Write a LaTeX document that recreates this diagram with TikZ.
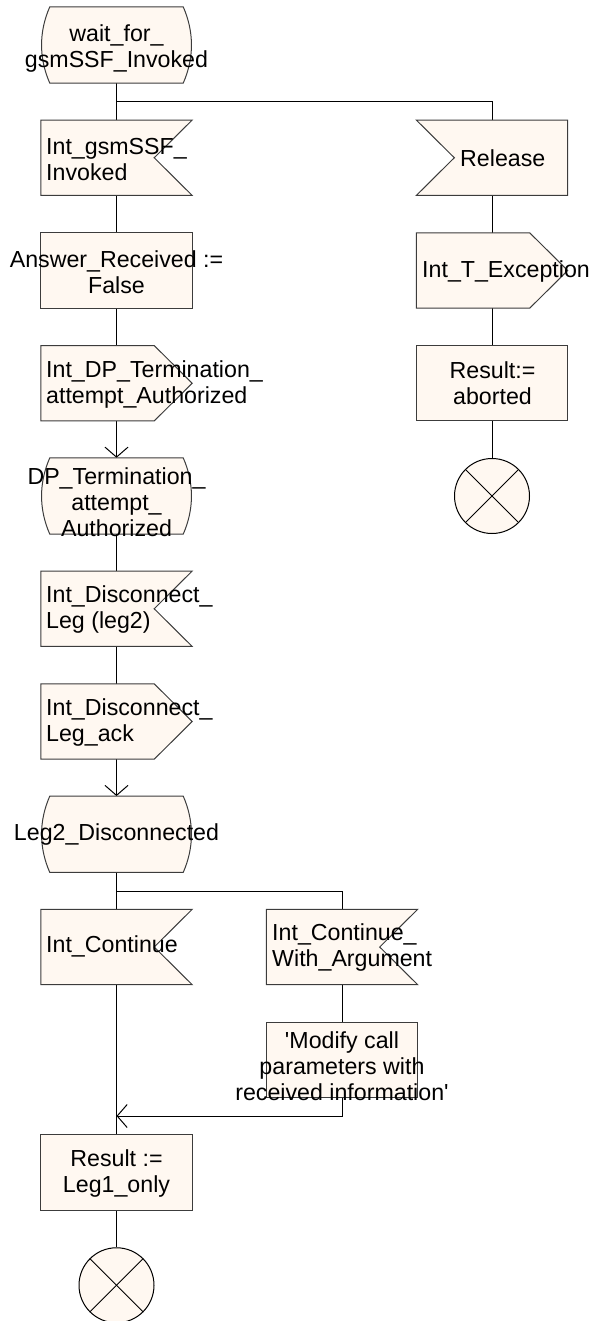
\documentclass[tikz,border=0pt]{standalone}
\usepackage{fontspec}
\setmainfont{Liberation Sans}
\usetikzlibrary{arrows.meta,calc}
\definecolor{sdlfill}{RGB}{255,248,241}
\definecolor{sdlline}{RGB}{60,60,60}
% shape outlines drawn around invisible frame nodes
\newcommand\sdlstate[1]{%
  \path[outl] ([xshift=9pt]#1.north west) -- ([xshift=-9pt]#1.north east)
    .. controls ([xshift=2pt,yshift=-25pt]#1.north east) and ([xshift=2pt,yshift=25pt]#1.south east) .. ([xshift=-9pt]#1.south east)
    -- ([xshift=9pt]#1.south west)
    .. controls ([xshift=-2pt,yshift=25pt]#1.south west) and ([xshift=-2pt,yshift=-25pt]#1.north west) .. ([xshift=9pt]#1.north west) -- cycle;}
\newcommand\sdlinput[1]{%
  \path[outl] (#1.north west) -- (#1.north east) -- ([xshift=-38pt]#1.east) -- (#1.south east) -- (#1.south west) -- cycle;}
\newcommand\sdlinputleft[1]{%
  \path[outl] (#1.north west) -- (#1.north east) -- (#1.south east) -- (#1.south west) -- ([xshift=38pt]#1.west) -- cycle;}
\newcommand\sdloutput[1]{%
  \path[outl] (#1.north west) -- ([xshift=-38pt]#1.north east) -- (#1.east) -- ([xshift=-38pt]#1.south east) -- (#1.south west) -- cycle;}
\newcommand\sdltask[1]{%
  \path[outl] (#1.north west) rectangle (#1.south east);}
\begin{document}
\begin{tikzpicture}[x=1pt,y=-1pt,
  frame/.style={draw=none,minimum width=151pt,minimum height=75pt,inner sep=0pt},
  sframe/.style={frame,minimum height=76pt},
  outl/.style={draw=sdlline,fill=sdlfill,line width=1pt},
  conn/.style={draw=black,line width=1pt},
  arr/.style={conn,-{Straight Barb[length=10pt,width=23pt]}},
  txt/.style={font=\fontsize{23.2}{26}\selectfont,inner sep=0pt,align=center},
  ltxt/.style={txt,align=left,anchor=west},
  term/.style={circle,minimum size=75pt,inner sep=0pt,draw=black,fill=sdlfill,line width=1pt}]
\useasboundingbox (0,0) rectangle (589,1321);

% frames (left column)
\node[sframe] (wait) at (116.5,45) {};
\node[frame] (gsm) at (116.5,157.75) {};
\node[frame] (ar) at (116.5,270.5) {};
\node[frame] (idp) at (116.5,383.25) {};
\node[sframe] (dp) at (116.5,496) {};
\node[frame] (idl) at (116.5,608.75) {};
\node[frame] (idla) at (116.5,721.5) {};
\node[sframe] (l2d) at (116.5,834.25) {};
\node[frame] (ic) at (116.5,947) {};
\node[frame] (r1) at (116.5,1172.5) {};
% right column
\node[frame] (rel) at (492,157.75) {};
\node[frame] (ite) at (492,270.5) {};
\node[frame] (abr) at (492,383.25) {};
% middle column
\node[frame] (icwa) at (342,947) {};
\node[frame] (mod) at (342,1059.75) {};

\coordinate (b1) at (116.5,102);
\coordinate (b2) at (116.5,891);
\coordinate (m1) at (116.5,1116);

% connectors
\draw[conn] (wait.south) -- (gsm.north);
\draw[conn] (b1) -| (rel.north);
\draw[conn] (gsm.south) -- (ar.north);
\draw[conn] (ar.south) -- (idp.north);
\draw[arr] (idp.south) -- (dp.north);
\draw[conn] (dp.south) -- (idl.north);
\draw[conn] (idl.south) -- (idla.north);
\draw[arr] (idla.south) -- (l2d.north);
\draw[conn] (l2d.south) -- (ic.north);
\draw[conn] (b2) -| (icwa.north);
\draw[conn] (icwa.south) -- (mod.north);
\draw[arr] (mod.south) |- (m1);
\draw[conn] (ic.south) -- (r1.north);
\draw[conn] (rel.south) -- (ite.north);
\draw[conn] (ite.south) -- (abr.north);

% terminators
\node[term] (end1) at (116.5,1285.25) {};
\draw[conn] (end1.north west) -- (end1.south east);
\draw[conn] (end1.north east) -- (end1.south west);
\node[term] (end2) at (492,496) {};
\draw[conn] (end2.north west) -- (end2.south east);
\draw[conn] (end2.north east) -- (end2.south west);
\draw[conn] (r1.south) -- (end1.north);
\draw[conn] (abr.south) -- (end2.north);

% shapes
\sdlstate{wait}
\sdlinput{gsm}
\sdltask{ar}
\sdloutput{idp}
\sdlstate{dp}
\sdlinput{idl}
\sdloutput{idla}
\sdlstate{l2d}
\sdlinput{ic}
\sdltask{r1}
\sdlinputleft{rel}
\sdloutput{ite}
\sdltask{abr}
\sdlinput{icwa}
\sdltask{mod}

% texts
\node[txt] (wait-t) at (116.5,49) {wait\_for\_\\gsmSSF\_Invoked};
\node[ltxt] (gsm-t) at (46,159.5) {Int\_gsmSSF\_\\Invoked};
\node[txt] (ar-t) at (116.5,272) {Answer\_Received :=\\False};
\node[ltxt] (idp-t) at (46,384.5) {Int\_DP\_Termination\_\\attempt\_Authorized};
\node[txt] (dp-t) at (116.5,502) {DP\_Termination\_\\attempt\_\\Authorized};
\node[ltxt] (idl-t) at (46,609.5) {Int\_Disconnect\_\\Leg (leg2)};
\node[ltxt] (idla-t) at (46,722) {Int\_Disconnect\_\\Leg\_ack};
\node[txt] (l2d-t) at (116.5,834) {Leg2\_Disconnected};
\node[ltxt] (ic-t) at (46,946.7) {Int\_Continue};
\node[ltxt] (icwa-t) at (272,947.5) {Int\_Continue\_\\With\_Argument};
\node[txt] (mod-t) at (342,1066) {\textquotesingle Modify call\\parameters with\\received information\textquotesingle};
\node[txt] (r1-t) at (116.5,1173) {Result :=\\Leg1\_only};
\node[ltxt] (rel-t) at (460,158) {Release};
\node[ltxt] (ite-t) at (422,272) {Int\_T\_Exception};
\node[txt] (abr-t) at (492.5,383) {Result:=\\aborted};
\end{tikzpicture}
\end{document}
